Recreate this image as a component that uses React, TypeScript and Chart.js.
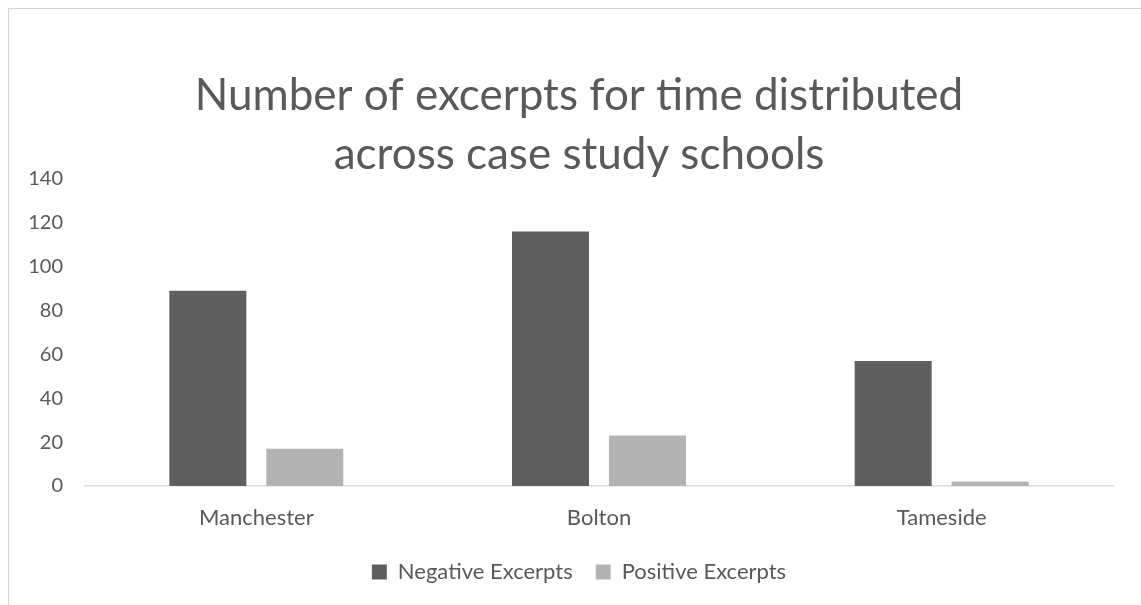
import { useEffect, useRef } from "react";
import { Chart, registerables } from "chart.js";

Chart.register(...registerables);

// Excerpt counts per case study school
const categories = ["Manchester", "Bolton", "Tameside"];
const negativeExcerpts = [89, 116, 57];
const positiveExcerpts = [17, 23, 2];
const seriesNames = ["Negative Excerpts", "Positive Excerpts"];
const yAxisMin = 0;
const yAxisMax = 140;
const yAxisStep = 20;
const titleLines = ["Number of excerpts for time distributed", "across case study schools"];

const TEXT = "#595959";
const DARK = "#5f5f5f";
const LIGHT = "#b3b3b3";
const W = 1141;
const H = 605;
// title and legend are centred over a band that starts a little in from the left edge
const HEADER_INSET_LEFT = 45;

const insetHeaderPlugin = {
  id: "insetHeader",
  afterLayout(chart: any) {
    if (chart.titleBlock) chart.titleBlock.left = HEADER_INSET_LEFT;
    if (chart.legend) chart.legend.left = HEADER_INSET_LEFT;
  },
};

export default function App() {
  const canvasRef = useRef<HTMLCanvasElement | null>(null);

  useEffect(() => {
    const canvas = canvasRef.current;
    if (!canvas) return;
    Chart.defaults.font.family = "Lato, 'Open Sans', sans-serif";
    Chart.defaults.color = TEXT;

    const chart = new Chart(canvas, {
      type: "bar",
      data: {
        labels: categories,
        datasets: [
          {
            label: seriesNames[0],
            data: negativeExcerpts,
            backgroundColor: DARK,
            borderWidth: 0,
          },
          {
            label: seriesNames[1],
            data: positiveExcerpts,
            backgroundColor: LIGHT,
            borderWidth: 0,
          },
        ],
      },
      plugins: [insetHeaderPlugin],
      options: {
        responsive: false,
        animation: false,
        devicePixelRatio: 1,
        datasets: {
          bar: {
            categoryPercentage: 0.566,
            barPercentage: 0.794,
          },
        },
        layout: {
          padding: { top: 0, right: 28, bottom: 12, left: 0 },
        },
        plugins: {
          tooltip: { enabled: false },
          title: {
            display: true,
            text: titleLines,
            color: TEXT,
            font: { size: 44, weight: "normal", lineHeight: 1.34 },
            padding: { top: 66, bottom: -5 },
          },
          legend: {
            position: "bottom",
            labels: {
              boxWidth: 15,
              boxHeight: 15,
              padding: 23,
              color: TEXT,
              font: { size: 22 },
            },
          },
        },
        scales: {
          x: {
            grid: { display: false },
            border: { display: true, color: "#d9d9d9", width: 1.5 },
            ticks: { color: TEXT, font: { size: 22 }, padding: 11 },
            afterFit: (scale: any) => {
              scale.height = 52;
            },
          },
          y: {
            min: yAxisMin,
            max: yAxisMax,
            grid: { display: false, drawTicks: false },
            border: { display: false },
            ticks: {
              stepSize: yAxisStep,
              color: TEXT,
              font: { size: 20 },
              padding: 22,
            },
            afterFit: (scale: any) => {
              scale.width = 85;
            },
          },
        },
      },
    });

    return () => chart.destroy();
  }, []);

  return (
    <div style={{ position: "fixed", left: 0, top: 0, width: W, height: H, background: "#fff", overflow: "hidden" }}>
      <div
        style={{
          position: "absolute",
          left: 8,
          top: 8,
          width: W + 40,
          height: H + 40,
          borderLeft: "1px solid #d4d4d4",
          borderTop: "1px solid #d4d4d4",
        }}
      />
      <canvas ref={canvasRef} width={W} height={H} style={{ position: "absolute", left: 0, top: 0 }} />
    </div>
  );
}
